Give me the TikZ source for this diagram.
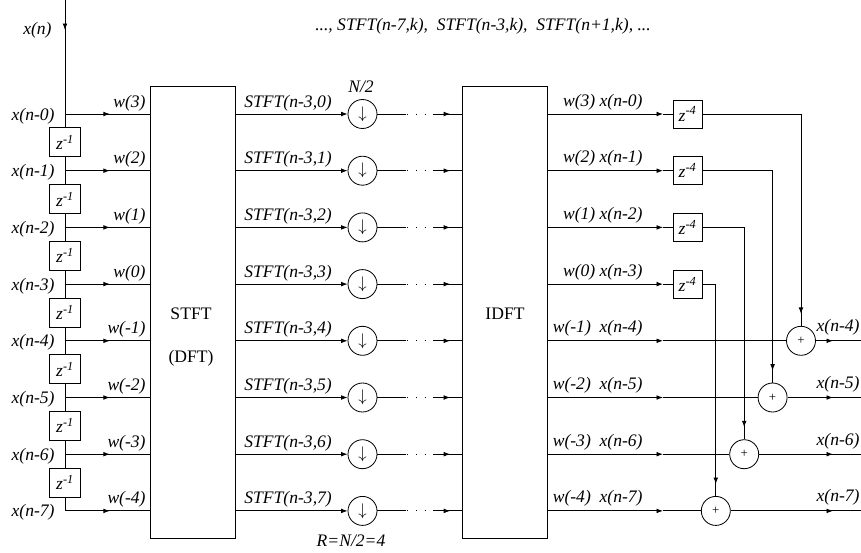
\documentclass[tikz,border=0pt]{standalone}
\usepackage{fontspec}
\setmainfont{Liberation Serif}
\usepackage{tikz}
\usetikzlibrary{decorations.markings}
\usetikzlibrary{arrows.meta, calc}

\newcommand{\lblsize}{\fontsize{15}{17}\selectfont}

\tikzset{
  tipat/.style={postaction={decorate},
    decoration={markings, mark=at position #1 with {\arrow{>}}}},
  blk/.style={draw, minimum width=2.55cm, minimum height=13.56cm, inner sep=0pt},
  dly/.style={draw, minimum width=0.93cm, minimum height=0.87cm, inner sep=0pt},
  rnd/.style={draw, circle, minimum size=0.87cm, inner sep=0pt},
  lbl/.style={font=\lblsize\itshape, inner sep=0pt},
  gapdots/.style={dash pattern=on 1pt off 6.7pt, dash phase=6.9pt},
}

\begin{document}
\begin{tikzpicture}[x=0.03cm, y=-0.03cm, line width=0.7pt,
    >={Latex[length=5.5pt,width=4pt]}, font=\lblsize]
  \useasboundingbox (0,0) rectangle (861,552);

  \node[blk] (stft) at (192.5,312) {};
  \node[blk] (idft) at (504.5,312) {};
  \node[anchor=base] (stftname) at (191,319) {STFT};
  \node[anchor=base] (dftname) at (191,362) {(DFT)};
  \node[anchor=base] (idftname) at (505,319) {IDFT};

  \coordinate (src) at (65,0);
  \node[lbl, anchor=base east] (xn) at (52,34) {x(n)};
  \node[lbl, anchor=base] (frames) at (483,30)
    {..., STFT(n-7,k),\ \ STFT(n-3,k),\ \ STFT(n+1,k), ...};

  % rows
  \foreach \i in {0,...,7} {
    \pgfmathsetmacro{\yy}{114+56.7*\i}
    \pgfmathtruncatemacro{\wi}{3-\i}
    \coordinate (tap-\i) at (65,\yy);
    \coordinate (ga-\i) at (406,\yy);
    \coordinate (gb-\i) at (433,\yy);
    \coordinate (mk-\i) at (663,\yy);
    \node[lbl, anchor=base east] (xl-\i) at (55,\yy+6) {x(n-\i)};
    \node[lbl, anchor=base east] (w-\i) at (146,\yy-7) {w(\wi)};
    \node[rnd] (ds-\i) at (362.5,\yy) {$\downarrow$};
    \node[lbl, anchor=base west] (st-\i) at (244,\yy-7) {STFT(n-3,\i)};
    \node[lbl, anchor=base east] (wx-\i) at (643,\yy-8)
      {w(\wi)\ifnum\i>3\ \fi\ x(n-\i)};
    \draw[tipat=0.53] (tap-\i) -- (tap-\i -| stft.west);
    \draw[->] (tap-\i -| stft.east) -- (ds-\i);
    \draw (ds-\i) -- (ga-\i);
    \draw[gapdots] (ga-\i) -- (gb-\i);
    \draw[tipat=0.6] (gb-\i) -- (gb-\i -| idft.west);
    \draw[->] (tap-\i -| idft.east) -- (mk-\i);
  }
  \node[lbl, anchor=base] (dec) at (361,92) {N/2};
  \node[lbl, anchor=base] (hop) at (351,546) {R=N/2=4};

  % delay line
  \draw[tipat=0.9cm] (src) -- (tap-0);
  \foreach \i in {0,...,6} {
    \pgfmathsetmacro{\yy}{142.35+56.7*\i}
    \pgfmathtruncatemacro{\j}{\i+1}
    \node[dly] (zd-\i) at (65,\yy) {\itshape z\textsuperscript{-1}};
    \draw (tap-\i) -- (zd-\i);
    \draw (zd-\i) -- (tap-\j);
  }

  % overlap-add
  \foreach \i in {0,...,3} {
    \pgfmathtruncatemacro{\j}{\i+4}
    \pgfmathsetmacro{\cx}{801-28.4*\i}
    \pgfmathsetmacro{\yy}{114+56.7*\j}
    \node[dly, minimum width=0.87cm, minimum height=0.84cm] (dz-\i)
      at (687.5,114+56.7*\i) {\itshape z\textsuperscript{-4}};
    \node[rnd] (ad-\j) at (\cx,\yy) {\fontsize{11}{12}\selectfont +};
    \coordinate (out-\j) at (861,\yy);
    \node[lbl, anchor=base east] (ox-\j) at (860,\yy-9) {x(n-\j)};
    \draw (mk-\i) -- (dz-\i);
    \draw[tipat=-0.36cm] (dz-\i) -- (dz-\i -| ad-\j) -- (ad-\j);
    \draw (mk-\j) -- (ad-\j);
    \draw[tipat=-0.84cm] (ad-\j) -- (out-\j);
  }
\end{tikzpicture}
\end{document}
